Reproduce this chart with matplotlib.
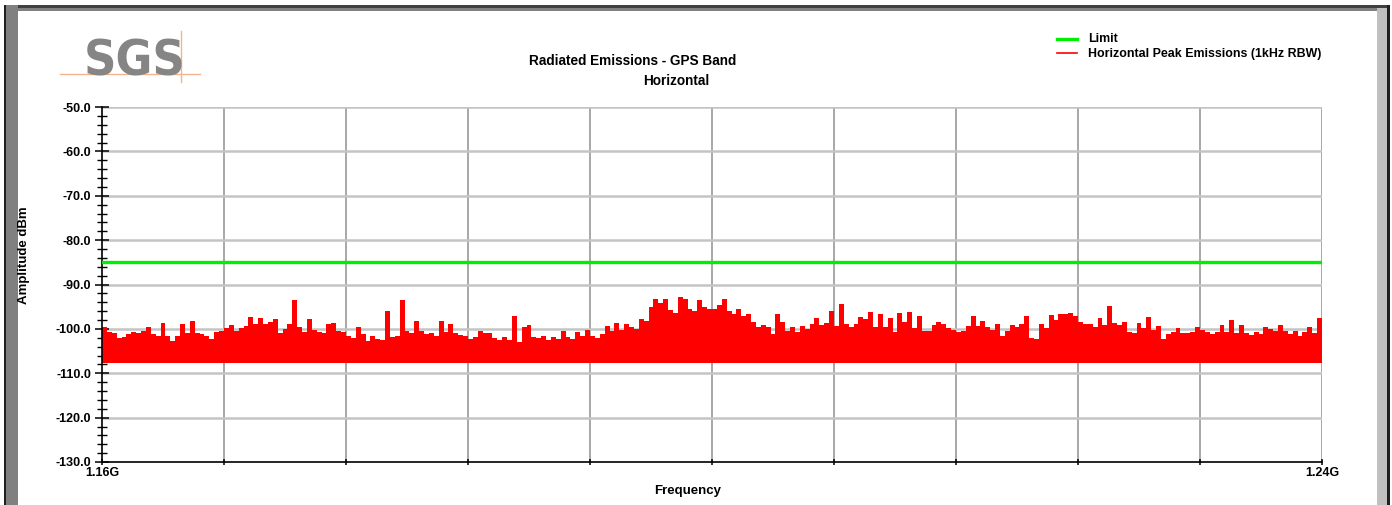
import numpy as np
import matplotlib
matplotlib.use("Agg")
import matplotlib.pyplot as plt
from matplotlib.patches import Rectangle
from matplotlib.lines import Line2D

plt.rcParams['font.family'] = ['Liberation Sans', 'DejaVu Sans']

# ---- data ----
f_start, f_stop = 1.160, 1.240          # GHz
limit_dbm = -85.0
floor_dbm = -107.8
y_ticks = [-50, -60, -70, -80, -90, -100, -110, -120, -130]
x_grid = [1.160, 1.168, 1.176, 1.184, 1.192, 1.200, 1.208, 1.216, 1.224, 1.232, 1.240]
x_labels = ['1.16G', '', '', '', '', '', '', '', '', '', '1.24G']

# peak emission (upper envelope), 25 readings per 8 MHz division
peaks_div1 = [-99.6, -100.8, -101.0, -102.0, -101.8, -101.2, -100.6, -101.0, -100.4, -99.6,
              -101.2, -101.5, -98.7, -101.5, -102.8, -101.5, -99.0, -101.0, -98.3, -100.9,
              -101.2, -101.6, -102.2, -100.8, -100.4]
peaks_div2 = [-99.7, -99.2, -100.5, -99.8, -99.4, -97.4, -99.0, -97.5, -98.8, -98.4,
              -97.8, -100.9, -100.0, -98.8, -93.6, -99.5, -100.6, -97.7, -100.2, -100.8,
              -101.0, -99.0, -98.6, -100.5, -100.6]
peaks_div3 = [-101.6, -102.0, -99.5, -101.2, -102.7, -101.5, -102.2, -102.4, -95.9, -101.8,
              -101.5, -93.4, -100.5, -100.9, -98.2, -100.5, -101.2, -100.9, -101.6, -98.2,
              -100.8, -98.8, -100.9, -101.4, -101.6]
peaks_div4 = [-102.3, -101.8, -100.4, -101.0, -100.9, -102.0, -102.6, -101.8, -102.4, -97.1,
              -102.9, -99.5, -99.2, -101.8, -102.0, -101.7, -102.5, -101.8, -102.3, -100.4,
              -101.8, -102.3, -100.7, -101.6, -100.2]
peaks_div5 = [-101.5, -102.0, -101.2, -99.3, -100.4, -98.6, -100.2, -99.0, -99.6, -100.0,
              -97.8, -98.3, -95.1, -93.2, -94.2, -93.3, -95.8, -96.5, -92.9, -93.2,
              -95.6, -96.0, -93.6, -95.0, -95.5]
peaks_div6 = [-95.6, -94.6, -93.3, -96.0, -96.7, -95.6, -97.0, -96.7, -98.5, -99.6,
              -99.2, -99.6, -101.2, -96.6, -98.5, -100.4, -99.5, -100.6, -99.4, -100.0,
              -98.8, -97.5, -99.2, -98.6, -96.0]
peaks_div7 = [-99.4, -94.5, -99.0, -99.6, -98.9, -97.3, -97.8, -96.3, -99.5, -96.7,
              -99.5, -97.5, -100.8, -96.4, -98.5, -96.3, -99.8, -97.0, -100.5, -100.4,
              -99.2, -98.5, -99.0, -99.8, -100.3]
peaks_div8 = [-100.6, -100.4, -99.4, -97.2, -99.4, -98.3, -99.5, -100.2, -99.0, -101.5,
              -100.5, -99.2, -99.5, -98.8, -97.2, -102.0, -102.3, -98.9, -99.8, -96.8,
              -98.0, -96.6, -96.6, -96.5, -97.2]
peaks_div9 = [-98.5, -99.0, -98.8, -99.6, -97.5, -99.2, -94.9, -98.7, -99.2, -98.4,
              -100.6, -101.0, -98.6, -99.8, -97.4, -100.2, -99.3, -102.2, -101.2, -100.6,
              -99.9, -100.9, -101.0, -100.6, -99.6]
peaks_div10 = [-100.3, -100.8, -101.2, -100.6, -99.1, -100.8, -97.9, -101.0, -99.1, -100.9,
               -101.3, -100.6, -101.2, -99.6, -100.0, -100.5, -99.1, -100.4, -101.2, -100.5,
               -101.5, -100.8, -99.6, -101.0, -97.5]

peaks = np.array(peaks_div1 + peaks_div2 + peaks_div3 + peaks_div4 + peaks_div5 +
                 peaks_div6 + peaks_div7 + peaks_div8 + peaks_div9 + peaks_div10)
edges = np.linspace(f_start, f_stop, len(peaks) + 1)

# ---- figure ----
W, H = 1392, 505
fig = plt.figure(figsize=(W / 100, H / 100), dpi=100)
fig.patch.set_facecolor('white')

def px_rect(x0, y0, x1, y1, **kw):
    fig.patches.append(Rectangle((x0 / W, 1 - y1 / H), (x1 - x0) / W, (y1 - y0) / H,
                                 transform=fig.transFigure, figure=fig, zorder=-1, **kw))

# frame decorations
px_rect(5, 5, 1390, 8, color='#404040', lw=0)
px_rect(5, 8, 1377, 11, color='#808080', lw=0)
px_rect(5, 5, 18, H, color='#808080', lw=0)
px_rect(4, 5, 6, H, color='#202020', lw=0)
px_rect(1377, 8, 1387, H, color='#c0c0c0', lw=0)
px_rect(1387, 5, 1390, H, color='#202020', lw=0)

ax = fig.add_axes([102 / W, 1 - 462 / H, (1322 - 102) / W, (462 - 107) / H])
ax.set_xlim(f_start, f_stop)
ax.set_ylim(-130, -50)
ax.patch.set_alpha(0)

# grid
for xv in x_grid[1:]:
    ax.axvline(xv, color='#a0a0a0', lw=1.3, zorder=0)
for yv in y_ticks[:-1]:
    ax.axhline(yv, color='#c4c4c4', lw=1.8, zorder=0)

# data
ax.stairs(peaks, edges, baseline=floor_dbm, fill=True, color='#ff0000', lw=0, zorder=2)
ax.axhline(limit_dbm, color='#00ee00', lw=2.4, zorder=3)

# spines / ticks
for s in ['top', 'right']:
    ax.spines[s].set_visible(False)
for s in ['left', 'bottom']:
    ax.spines[s].set_color('black')
    ax.spines[s].set_linewidth(1.2)
ax.set_yticks(y_ticks)
ax.set_yticklabels([f'{v:.1f}' for v in y_ticks], fontsize=9, fontweight='bold')
ax.set_yticks(np.arange(-130, -49, 2), minor=True)
ax.tick_params(axis='y', which='major', direction='inout', length=10, width=1.1, pad=3)
ax.tick_params(axis='y', which='minor', direction='inout', length=7, width=1.0)
ax.set_xticks(x_grid)
ax.set_xticklabels(x_labels, fontsize=9, fontweight='bold')
ax.tick_params(axis='x', which='major', direction='inout', length=5, width=1.1, pad=1)

fig.text(24.5 / W, 1 - 255 / H, 'Amplitude dBm', rotation=90, ha='center', va='center',
         fontsize=9.5, fontweight='bold')
fig.text(688 / W, 1 - 491 / H, 'Frequency', ha='center', va='center',
         fontsize=9.5, fontweight='bold')

# titles
fig.text(633 / W, 1 - 61 / H, 'Radiated Emissions - GPS Band', ha='center', va='center',
         fontsize=9.8, fontweight='bold')
fig.text(676 / W, 1 - 81 / H, 'Horizontal', ha='center', va='center',
         fontsize=9.8, fontweight='bold')

# legend
fig.add_artist(Line2D([1057 / W, 1077 / W], [1 - 39 / H, 1 - 39 / H], color='#00ee00', lw=2.4,
                      transform=fig.transFigure))
fig.add_artist(Line2D([1057 / W, 1077 / W], [1 - 53 / H, 1 - 53 / H], color='#ff0000', lw=1.2,
                      transform=fig.transFigure))
fig.text(1088 / W, 1 - 39 / H, 'Limit', ha='left', va='center', fontsize=8.9, fontweight='bold')
fig.text(1088 / W, 1 - 54 / H, 'Horizontal Peak Emissions (1kHz RBW)', ha='left', va='center',
         fontsize=8.9, fontweight='bold')

# SGS logo
fig.text(135 / W, 1 - 75 / H, 'SGS', ha='center', va='baseline', fontsize=36, fontweight='heavy',
         fontstretch='condensed', color='#858585', family=['DejaVu Sans'])
fig.add_artist(Line2D([60 / W, 200 / W], [1 - 74 / H, 1 - 74 / H], color='#f2b48c', lw=1.0,
                      transform=fig.transFigure))
fig.add_artist(Line2D([181 / W, 181 / W], [1 - 31 / H, 1 - 82 / H], color='#f2b48c', lw=1.0,
                      transform=fig.transFigure))

fig.savefig('out.png', dpi=100, facecolor='white')
